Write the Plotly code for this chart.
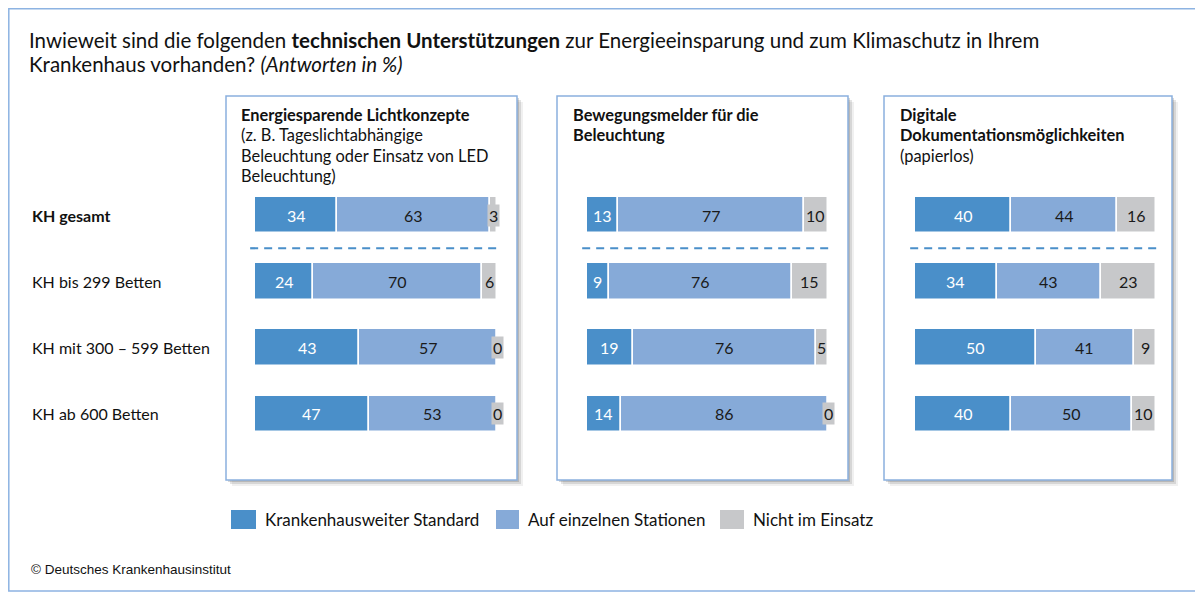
import plotly.graph_objects as go

# page is rendered with an 8px body margin, so the figure is 8px smaller and offset
OFF = 8
W, H = 1203 - OFF, 594 - OFF

categories = ["KH gesamt", "KH bis 299 Betten", "KH mit 300 – 599 Betten", "KH ab 600 Betten"]
series_names = ["Krankenhausweiter Standard", "Auf einzelnen Stationen", "Nicht im Einsatz"]

p1_standard = [34, 24, 43, 47]
p1_stationen = [63, 70, 57, 53]
p1_nicht = [3, 6, 0, 0]

p2_standard = [13, 9, 19, 14]
p2_stationen = [77, 76, 76, 86]
p2_nicht = [10, 15, 5, 0]

p3_standard = [40, 34, 50, 40]
p3_stationen = [44, 43, 41, 50]
p3_nicht = [16, 23, 9, 10]

panel_titles = [
    ["<b>Energiesparende Lichtkonzepte</b>", "(z. B. Tageslichtabhängige", "Beleuchtung oder Einsatz von LED", "Beleuchtung)"],
    ["<b>Bewegungsmelder für die</b>", "<b>Beleuchtung</b>"],
    ["<b>Digitale</b>", "<b>Dokumentationsmöglichkeiten</b>", "(papierlos)"],
]

title_lines = [
    "Inwieweit sind die folgenden <b>technischen Unterstützungen</b> zur Energieeinsparung und zum Klimaschutz in Ihrem",
    "Krankenhaus vorhanden? <i>(Antworten in %)</i>",
]

panels = [
    (p1_standard, p1_stationen, p1_nicht),
    (p2_standard, p2_stationen, p2_nicht),
    (p3_standard, p3_stationen, p3_nicht),
]

colors = ["#4A8FC9", "#86AAD8", "#C7C8CA"]
text_colors = ["#FFFFFF", "#1A1A1A", "#1A1A1A"]
FONT = "Lato"
TXT = "#111111"


def px(x):
    return (x - OFF) / W


def py(y):
    return 1 - (y - OFF) / H


bar_px = [(255, 497), (587, 828), (915, 1156)]
box_px = [(226, 517), (557, 848), (884, 1172)]
title_px = [239, 571, 898]
box_top, box_bot = 96, 480
ydom = [py(447), py(182)]

fig = go.Figure()
shapes = []
annotations = []

# outer frame
shapes.append(dict(type="rect", xref="paper", yref="paper", x0=px(OFF + 0.8), x1=px(1197), y0=py(591),
                   y1=py(OFF + 0.8), line=dict(color="#8DB3E2", width=1.5), fillcolor="rgba(0,0,0,0)",
                   layer="below"))

for i, (bx, sx, tx) in enumerate(zip(bar_px, box_px, title_px)):
    ax = "" if i == 0 else str(i + 1)
    xa, ya = "x" + ax, "y" + ax
    # box shadow
    for off, op in [(6, 0.08), (4, 0.14), (2, 0.20)]:
        shapes.append(dict(type="rect", xref="paper", yref="paper",
                           x0=px(sx[0] + off), x1=px(sx[1] + off), y0=py(box_bot + off), y1=py(box_top + off),
                           line=dict(width=0), fillcolor=f"rgba(60,60,60,{op})", layer="below"))
    shapes.append(dict(type="rect", xref="paper", yref="paper", x0=px(sx[0]), x1=px(sx[1]),
                       y0=py(box_bot), y1=py(box_top), line=dict(color="#8AB0DE", width=1.5),
                       fillcolor="white", layer="below"))
    for k, line in enumerate(panel_titles[i]):
        annotations.append(dict(x=px(tx), y=py(114 + 20.5 * k), xref="paper", yref="paper",
                                xanchor="left", yanchor="middle", text=line, showarrow=False,
                                font=dict(family=FONT, size=16.4, color=TXT)))

    vals = panels[i]
    cum = [0] * len(categories)
    for s, (name, v) in enumerate(zip(series_names, vals)):
        fig.add_trace(go.Bar(
            x=v, y=list(range(len(categories))), base=cum[:], orientation="h", name=name,
            marker=dict(color=colors[s], line=dict(color="white", width=1.5)),
            width=0.55, xaxis=xa, yaxis=ya, showlegend=False, hoverinfo="skip"))
        for r, val in enumerate(v):
            mid = cum[r] + val / 2
            small = val < 4
            annotations.append(dict(
                x=mid, y=r, xref=xa, yref=ya, text=str(val), showarrow=False,
                xanchor="center", yanchor="middle",
                font=dict(family=FONT, size=16, color=text_colors[s]),
                bgcolor=colors[2] if small else None, borderpad=1))
        cum = [c + val for c, val in zip(cum, v)]

    # dashed separator
    shapes.append(dict(type="line", xref=xa + " domain", yref=ya, x0=-0.02, x1=1.01, y0=0.5, y1=0.5,
                       line=dict(color="#4A8FC9", width=2.2, dash="8px,6px")))

    fig.update_layout(**{
        ("xaxis" + ax): dict(domain=[px(bx[0]), px(bx[1])], range=[0, 100], visible=False, fixedrange=True),
        ("yaxis" + ax): dict(domain=ydom, range=[3.5, -0.5], visible=False, fixedrange=True),
    })

# row labels
for r, cat in enumerate(categories):
    txt = f"<b>{cat}</b>" if r == 0 else cat
    annotations.append(dict(x=px(30), y=r, xref="paper", yref="y", xanchor="left", yanchor="middle",
                            text=txt, showarrow=False, font=dict(family=FONT, size=16, color=TXT)))

# chart title
for k, line in enumerate(title_lines):
    annotations.append(dict(
        x=px(27), y=py(40 + 24 * k), xref="paper", yref="paper", xanchor="left", yanchor="middle",
        text=line, showarrow=False, font=dict(family=FONT, size=20.5, color=TXT)))

# legend (manual)
leg_sq = [(231, 256), (496, 519), (720, 744)]
for s, name in enumerate(series_names):
    x0, x1 = leg_sq[s]
    shapes.append(dict(type="rect", xref="paper", yref="paper", x0=px(x0), x1=px(x1), y0=py(529), y1=py(510),
                       line=dict(width=0), fillcolor=colors[s]))
    annotations.append(dict(x=px(x1 + 7), y=py(519.5), xref="paper", yref="paper", xanchor="left",
                            yanchor="middle", text=name, showarrow=False,
                            font=dict(family=FONT, size=17, color=TXT)))

# copyright
annotations.append(dict(x=px(29), y=py(569), xref="paper", yref="paper", xanchor="left", yanchor="middle",
                        text="© Deutsches Krankenhausinstitut", showarrow=False,
                        font=dict(family="Liberation Sans", size=13.5, color=TXT)))

fig.update_layout(
    width=W, height=H, margin=dict(l=0, r=0, t=0, b=0),
    paper_bgcolor="white", plot_bgcolor="rgba(0,0,0,0)",
    barmode="overlay", bargap=0, shapes=shapes, annotations=annotations,
    showlegend=False,
)

fig.write_html("out.html")
